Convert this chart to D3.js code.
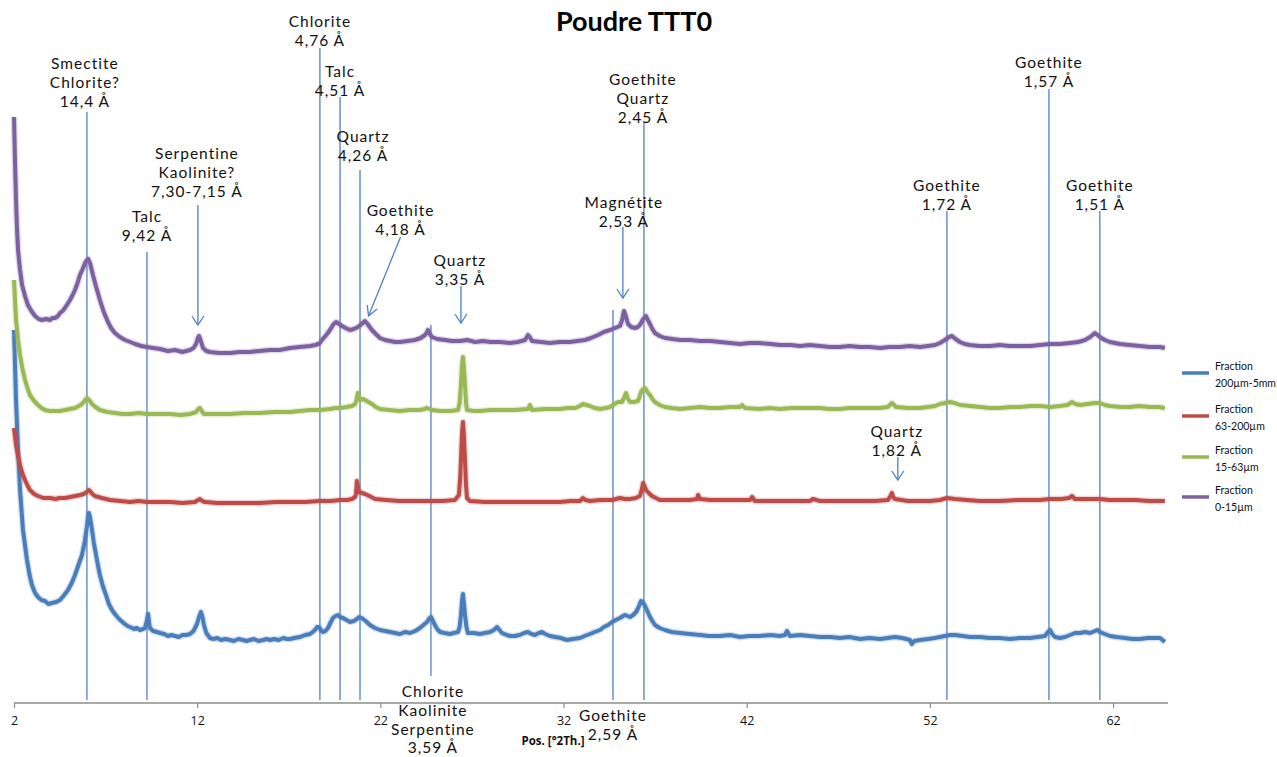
<!DOCTYPE html>
<html><head><meta charset="utf-8">
<script src="https://cdn.jsdelivr.net/npm/d3@7"></script>
<style>
body{margin:0;background:#fff;}
svg{display:block;}
</style></head>
<body><svg id="c" width="1277" height="757"></svg>
<script>
// ---------- DATA ----------
const title = "Poudre TTT0";
const xAxisTitle = "Pos. [°2Th.]";
const xTicks = [2, 12, 22, 32, 42, 52, 62];
const seriesNames = ["Fraction\n200µm-5mm", "Fraction\n63-200µm", "Fraction\n15-63µm", "Fraction\n0-15µm"];

// [2θ, intensity (arbitrary, stacked)]
const blue = [[2.00,373],[2.11,303],[2.22,253],[2.33,213],[2.49,173],[2.71,143],[2.85,128],[2.98,118],[3.15,110],[3.31,106],[3.50,103],[3.69,102],[3.88,99],[4.07,100],[4.30,101],[4.51,103],[4.70,107],[4.95,113],[5.15,120],[5.33,128],[5.50,137],[5.71,148],[5.85,160],[5.98,176],[6.04,186],[6.09,190],[6.15,186],[6.26,173],[6.36,160],[6.48,148],[6.58,138],[6.69,128],[6.85,117],[7.02,108],[7.18,99],[7.35,93],[7.55,88],[7.79,83],[8.05,79],[8.20,77],[8.33,76],[8.55,74],[8.70,75],[8.88,73],[9.05,74],[9.15,75],[9.25,82],[9.32,89],[9.38,80],[9.42,75],[9.60,72],[9.80,71],[9.97,70],[10.20,69],[10.40,67],[10.60,68],[10.79,67],[11.00,66],[11.20,68],[11.40,68],[11.61,69],[11.80,72],[11.99,79],[12.10,86],[12.21,91],[12.30,85],[12.37,78],[12.50,70],[12.70,65],[12.90,64],[13.10,65],[13.30,63],[13.55,64],[13.79,63],[14.00,62],[14.25,64],[14.50,63],[14.70,62],[14.88,63],[15.10,64],[15.35,62],[15.60,63],[15.80,64],[15.98,63],[16.20,64],[16.45,63],[16.70,65],[16.90,64],[17.07,64],[17.30,65],[17.61,66],[17.90,68],[18.16,69],[18.30,71],[18.43,73],[18.55,76],[18.65,76],[18.75,73],[18.87,71],[19.00,72],[19.14,75],[19.30,81],[19.41,85],[19.55,87],[19.69,88],[19.80,86],[19.96,85],[20.15,83],[20.34,81],[20.55,82],[20.72,84],[20.85,86],[20.99,85],[21.20,82],[21.43,78],[21.70,75],[21.98,73],[22.25,72],[22.53,71],[22.80,70],[23.07,69],[23.35,71],[23.62,70],[23.90,72],[24.16,75],[24.35,78],[24.55,81],[24.65,84],[24.76,86],[24.87,82],[24.98,78],[25.10,74],[25.26,71],[25.50,70],[25.80,69],[26.00,70],[26.24,71],[26.33,76],[26.40,88],[26.46,102],[26.51,109],[26.56,100],[26.62,88],[26.70,76],[26.78,70],[27.10,70],[27.44,69],[27.70,70],[27.99,71],[28.20,73],[28.37,76],[28.50,73],[28.64,70],[28.90,68],[29.10,67],[29.35,67],[29.60,68],[29.85,70],[30.06,71],[30.25,69],[30.44,68],[30.65,70],[30.82,71],[31.00,69],[31.26,67],[31.55,66],[31.85,65],[32.19,63],[32.50,64],[32.90,65],[33.15,67],[33.44,69],[33.70,71],[33.99,73],[34.20,76],[34.43,78],[34.65,81],[34.85,83],[35.08,85],[35.25,87],[35.36,88],[35.50,87],[35.63,86],[35.80,88],[35.96,91],[36.10,96],[36.23,102],[36.33,101],[36.45,97],[36.60,91],[36.72,86],[36.85,82],[36.99,78],[37.25,75],[37.54,73],[37.90,71],[38.36,70],[38.90,69],[39.45,68],[39.95,67],[40.54,67],[41.10,68],[41.63,66],[42.15,67],[42.72,67],[43.30,68],[43.80,67],[44.09,68],[44.20,72],[44.36,67],[44.91,68],[45.45,67],[46.00,66],[46.55,66],[47.09,65],[47.60,66],[48.18,64],[48.70,65],[49.28,64],[49.70,65],[50.09,66],[50.50,65],[50.91,63],[51.02,59],[51.15,62],[51.46,63],[51.90,64],[52.28,65],[52.82,67],[53.10,68],[53.37,68],[53.80,67],[54.19,66],[54.70,66],[55.28,65],[55.80,65],[56.37,64],[56.90,65],[57.47,65],[57.90,66],[58.28,67],[58.45,71],[58.56,73],[58.68,69],[58.83,66],[59.10,65],[59.38,66],[59.65,68],[59.92,70],[60.20,70],[60.47,71],[60.75,70],[61.01,72],[61.15,73],[61.28,71],[61.55,69],[61.83,67],[62.20,66],[62.65,65],[63.05,64],[63.47,64],[63.90,65],[64.29,65],[64.56,65],[64.70,63],[64.83,61]];

const red = [[2.00,275],[2.11,258],[2.22,247],[2.33,238],[2.45,230],[2.60,223],[2.75,217],[2.87,213],[3.10,209],[3.31,207],[3.60,205],[3.97,205],[4.25,204],[4.51,205],[4.80,205],[5.06,206],[5.35,207],[5.60,208],[5.80,209],[5.98,211],[6.08,213],[6.15,212],[6.28,209],[6.42,207],[6.80,205],[7.24,203],[7.80,202],[8.33,201],[8.80,202],[9.26,201],[9.90,201],[10.52,201],[11.20,200],[11.88,201],[12.05,203],[12.15,204],[12.28,202],[12.43,201],[13.10,200],[13.79,200],[14.60,200],[15.43,200],[16.30,201],[17.07,201],[17.90,201],[18.70,202],[19.30,202],[19.80,203],[20.20,203],[20.45,204],[20.62,206],[20.67,209],[20.70,216],[20.72,222],[20.76,218],[20.83,211],[21.00,210],[21.16,209],[21.40,207],[21.71,204],[22.30,203],[23.07,202],[23.90,202],[24.71,202],[25.40,202],[26.07,203],[26.29,208],[26.36,225],[26.40,243],[26.46,270],[26.51,281],[26.56,268],[26.62,243],[26.67,220],[26.73,205],[26.89,202],[27.70,201],[28.53,201],[29.30,201],[30.17,201],[31.00,201],[31.81,201],[32.40,202],[32.90,202],[33.06,205],[33.20,203],[33.44,202],[34.00,203],[34.65,203],[35.08,205],[35.35,204],[35.63,204],[35.95,205],[36.17,207],[36.28,214],[36.34,220],[36.42,217],[36.50,213],[36.65,210],[36.83,207],[37.26,203],[38.10,203],[38.90,203],[39.29,204],[39.34,208],[39.45,204],[40.00,203],[40.54,203],[41.40,203],[42.18,203],[42.29,206],[42.45,202],[43.10,202],[43.82,202],[44.60,202],[45.45,202],[45.62,204],[46.00,202],[47.10,202],[48.18,202],[49.00,202],[49.71,203],[49.85,207],[49.93,210],[50.00,206],[50.09,204],[50.80,202],[51.46,202],[52.00,202],[52.55,203],[52.93,205],[53.37,204],[54.00,203],[54.70,202],[55.83,202],[56.90,203],[58.01,203],[58.56,204],[59.20,204],[59.60,205],[59.76,207],[59.92,204],[60.60,204],[61.28,204],[61.80,203],[62.38,203],[63.20,203],[64.00,202],[64.83,202]];

const green = [[2.00,423],[2.11,383],[2.22,363],[2.33,348],[2.45,335],[2.60,323],[2.75,314],[2.87,308],[3.10,302],[3.31,298],[3.50,295],[3.69,293],[3.95,292],[4.24,292],[4.50,292],[4.78,293],[5.05,294],[5.33,295],[5.55,297],[5.71,299],[5.85,302],[5.98,305],[6.10,303],[6.26,299],[6.45,296],[6.69,293],[7.10,291],[7.51,290],[7.90,289],[8.33,289],[8.80,290],[9.26,289],[9.90,289],[10.52,289],[11.10,288],[11.61,289],[11.94,291],[12.07,294],[12.15,295],[12.25,292],[12.37,289],[13.10,289],[13.79,289],[14.60,290],[15.43,290],[16.20,291],[17.07,291],[17.60,292],[18.16,293],[18.70,293],[19.25,294],[19.55,295],[19.80,295],[20.15,296],[20.45,297],[20.62,299],[20.67,301],[20.72,306],[20.78,310],[20.83,306],[20.89,303],[21.05,304],[21.16,303],[21.35,301],[21.54,299],[21.75,296],[21.98,294],[22.50,293],[23.07,292],[23.60,293],[24.16,293],[24.40,294],[24.55,295],[24.68,294],[24.82,293],[25.30,292],[25.80,292],[26.24,293],[26.33,300],[26.40,318],[26.46,338],[26.51,346],[26.56,336],[26.62,318],[26.68,300],[26.73,293],[27.10,292],[27.44,292],[28.00,293],[28.53,293],[29.30,293],[30.06,294],[30.17,298],[30.28,293],[31.00,294],[31.81,294],[32.20,295],[32.63,295],[32.90,297],[33.06,299],[33.25,298],[33.44,297],[33.70,295],[33.99,294],[34.30,295],[34.54,296],[34.78,299],[34.98,301],[35.19,301],[35.30,305],[35.41,310],[35.50,305],[35.63,301],[35.85,301],[36.06,302],[36.15,306],[36.23,311],[36.35,314],[36.45,315],[36.58,311],[36.72,308],[36.85,304],[36.99,301],[37.25,298],[37.54,296],[37.90,295],[38.36,294],[38.90,295],[39.45,296],[40.00,295],[40.54,295],[41.10,296],[41.63,296],[41.75,298],[41.90,295],[42.72,294],[43.30,295],[43.82,294],[44.40,295],[44.91,295],[45.50,295],[46.00,295],[46.50,294],[47.09,294],[47.60,295],[48.18,295],[48.70,295],[49.28,295],[49.70,296],[49.93,300],[50.15,296],[50.80,295],[51.46,295],[51.90,296],[52.28,297],[52.55,299],[52.82,300],[53.10,301],[53.35,300],[53.64,298],[54.20,297],[54.73,296],[55.30,295],[55.83,295],[56.40,296],[56.92,296],[57.50,297],[58.01,297],[58.60,296],[59.10,297],[59.50,298],[59.76,301],[59.95,299],[60.20,298],[60.60,299],[61.01,300],[61.28,300],[61.55,298],[61.83,297],[62.40,296],[62.92,296],[63.40,297],[64.01,296],[64.50,296],[64.83,295]];

const purple = [[2.00,586],[2.05,545],[2.11,503],[2.16,476],[2.22,453],[2.33,433],[2.44,418],[2.60,407],[2.76,398],[2.95,392],[3.15,387],[3.35,384],[3.53,383],[3.75,384],[3.97,383],[4.10,385],[4.24,385],[4.40,387],[4.51,390],[4.65,392],[4.78,395],[4.92,399],[5.06,403],[5.20,408],[5.33,413],[5.47,420],[5.60,428],[5.75,434],[5.88,440],[5.98,443],[6.05,444],[6.15,440],[6.23,434],[6.31,428],[6.50,415],[6.69,403],[6.90,391],[7.13,381],[7.30,375],[7.51,370],[7.78,366],[8.06,363],[8.35,361],[8.61,359],[8.95,357],[9.26,356],[9.60,355],[9.97,354],[10.40,352],[10.79,353],[11.20,351],[11.61,353],[11.80,355],[11.94,359],[12.04,365],[12.10,367],[12.20,362],[12.32,355],[12.50,352],[12.70,351],[13.20,350],[13.79,350],[14.30,351],[14.88,351],[15.40,352],[15.98,353],[16.50,353],[17.07,355],[17.60,356],[18.16,357],[18.45,358],[18.60,359],[18.70,360],[18.81,363],[19.05,368],[19.25,373],[19.45,379],[19.58,381],[19.75,379],[19.91,377],[20.10,375],[20.34,373],[20.55,374],[20.78,376],[20.98,379],[21.16,382],[21.30,379],[21.54,373],[21.75,369],[21.98,365],[22.25,363],[22.53,362],[22.80,361],[23.07,361],[23.50,362],[23.89,363],[24.20,365],[24.44,368],[24.55,371],[24.60,373],[24.70,369],[24.82,366],[25.10,364],[25.53,363],[25.90,362],[26.35,362],[26.75,363],[27.17,361],[27.60,362],[27.99,361],[28.50,361],[29.08,360],[29.50,361],[29.90,363],[30.06,368],[30.16,366],[30.28,362],[30.75,361],[31.26,360],[31.80,361],[32.35,361],[32.75,362],[33.17,363],[33.50,365],[33.88,368],[34.20,371],[34.54,373],[34.81,375],[35.08,377],[35.20,383],[35.30,392],[35.40,387],[35.52,379],[35.70,376],[35.90,375],[36.05,376],[36.17,378],[36.35,384],[36.50,387],[36.60,383],[36.72,379],[36.85,374],[36.99,370],[37.25,367],[37.54,365],[37.95,364],[38.36,363],[38.90,363],[39.45,362],[40.00,362],[40.54,361],[41.10,360],[41.63,359],[42.15,360],[42.72,360],[43.30,359],[43.82,358],[44.40,358],[44.91,357],[45.45,358],[46.00,357],[46.55,356],[47.09,356],[47.60,357],[48.18,356],[48.70,356],[49.28,355],[49.80,356],[50.37,356],[50.90,357],[51.46,356],[51.90,357],[52.28,358],[52.55,360],[52.82,363],[53.05,366],[53.21,367],[53.40,364],[53.64,361],[53.90,359],[54.19,358],[54.70,357],[55.28,357],[55.80,358],[56.37,357],[56.90,357],[57.47,357],[58.01,358],[58.56,359],[59.10,359],[59.65,360],[60.10,361],[60.47,363],[60.75,366],[61.01,370],[61.15,368],[61.28,366],[61.55,363],[61.83,361],[62.10,360],[62.38,359],[62.90,358],[63.47,357],[64.00,356],[64.56,356],[64.83,355]];

// annotations: 2θ position, text lines, kind
const annoPos   = [5.98, 9.26, 12.04, 18.70, 19.80, 20.89, 21.30, 24.76, 26.40, 34.70, 35.24, 36.39, 52.93, 58.50, 61.28, 50.25];
const annoText  = [
  ["Smectite","Chlorite?","14,4 Å"],
  ["Talc","9,42 Å"],
  ["Serpentine","Kaolinite?","7,30-7,15 Å"],
  ["Chlorite","4,76 Å"],
  ["Talc","4,51 Å"],
  ["Quartz","4,26 Å"],
  ["Goethite","4,18 Å"],
  ["Chlorite","Kaolinite","Serpentine","3,59 Å"],
  ["Quartz","3,35 Å"],
  ["Goethite","2,59 Å"],
  ["Magnétite","2,53 Å"],
  ["Goethite","Quartz","2,45 Å"],
  ["Goethite","1,72 Å"],
  ["Goethite","1,57 Å"],
  ["Goethite","1,51 Å"],
  ["Quartz","1,82 Å"]
];
const annoKind = ["line","line","arrow","line","line","line","slant","mid","arrow","mid","arrow","line","line","line","line","arrow"];

// ---------- LAYOUT (pixels) ----------
// [label first-line centre y, line/arrow top y, line/arrow bottom y, label x offset]
const annoLayout = [
  [64,112,700,-2],[217,252,700,0],[154,205,325,-1],[22,48,700,0],[72,97,700,0],[137,170,700,3],
  [211,237,316,0],[692,325,676,2],[261,286,323,-1],[716,310,700,0],[203,227,298,1],[80,122,700,-1],
  [186,211,700,0],[63,89,700,0],[186,211,700,0],[432,457,480,-1]
];

const svg = d3.select("#c");
const x = d3.scaleLinear().domain([2, 65]).range([14, 1168]);
const y = d3.scaleLinear().domain([0, 700]).range([703, 3]);
const axisY = 703;

// title
svg.append("text").attr("x", 634).attr("y", 31).attr("text-anchor","middle")
  .attr("font-family","Lato, 'Open Sans', sans-serif").attr("font-weight","bold")
  .attr("font-size", 27).attr("fill","#000").text(title);

// axis
const axis = d3.axisBottom(x).tickValues(xTicks).tickSize(5).tickFormat(d3.format("d"));
const gA = svg.append("g").attr("transform",`translate(0,${axisY})`).call(axis);
gA.select(".domain").attr("stroke","#8c8c8c").attr("stroke-width",1.3).attr("d",`M14,0H1168`);
gA.selectAll(".tick line").attr("stroke","#8c8c8c").attr("stroke-width",1.2);
gA.selectAll(".tick text").attr("font-family","'Open Sans', sans-serif").attr("font-size",12.5)
  .attr("fill","#111").attr("dy","1.15em");
svg.append("text").attr("x",553).attr("y",745).attr("text-anchor","middle")
  .attr("font-family","'Open Sans', sans-serif").attr("font-weight","bold").attr("font-size",11.5)
  .attr("fill","#111").text(xAxisTitle);

// annotation lines
const refColor = "#4f81bd";
const gR = svg.append("g");
annoPos.forEach((p,i)=>{
  const L = annoLayout[i], k = annoKind[i];
  const px = x(p);
  if (k === "line" || k === "mid") {
    gR.append("line").attr("x1",px).attr("x2",px).attr("y1",L[1]).attr("y2",L[2])
      .attr("stroke",refColor).attr("stroke-width",1.3);
  } else if (k === "arrow") {
    gR.append("line").attr("x1",px).attr("x2",px).attr("y1",L[1]).attr("y2",L[2])
      .attr("stroke",refColor).attr("stroke-width",1.3);
    gR.append("path").attr("d",`M${px-6},${L[2]-9}L${px},${L[2]}L${px+6},${L[2]-9}`)
      .attr("fill","none").attr("stroke",refColor).attr("stroke-width",1.3);
  } else if (k === "slant") {
    const x0 = px + 33, x1 = px + 1;
    gR.append("line").attr("x1",x0).attr("x2",x1).attr("y1",L[1]).attr("y2",L[2])
      .attr("stroke",refColor).attr("stroke-width",1.3);
    const ang = Math.atan2(L[2]-L[1], x1-x0);
    const h = 11, s = 0.5;
    const a1 = ang + Math.PI - s, a2 = ang + Math.PI + s;
    gR.append("path").attr("d",`M${x1+h*Math.cos(a1)},${L[2]+h*Math.sin(a1)}L${x1},${L[2]}L${x1+h*Math.cos(a2)},${L[2]+h*Math.sin(a2)}`)
      .attr("fill","none").attr("stroke",refColor).attr("stroke-width",1.3);
  }
});

// series
const series = [blue, red, green, purple];
const colors = ["#4a7ebb","#be4b48","#98b954","#7d60a0"];
const line = d3.line().x(d=>x(d[0])).y(d=>y(d[1])).curve(d3.curveLinear);
const gS = svg.append("g");
series.forEach((s,i)=>{
  gS.append("path").attr("d",line(s)).attr("fill","none").attr("stroke",colors[i])
    .attr("stroke-width",6.5).attr("stroke-opacity",0.25).attr("stroke-linejoin","round");
  gS.append("path").attr("d",line(s)).attr("fill","none").attr("stroke",colors[i])
    .attr("stroke-width",4).attr("stroke-linejoin","round");
});

// annotation labels (on top)
const gT = svg.append("g").attr("font-family","Lato, 'Open Sans', sans-serif").attr("font-size",15.5)
  .attr("letter-spacing","1px").attr("fill","#111");
annoPos.forEach((p,i)=>{
  const L = annoLayout[i];
  let cx = x(p) + L[3];
  if (annoKind[i] === "slant") cx = x(p) + 33;
  annoText[i].forEach((t,j)=>{
    gT.append("text").attr("x",cx).attr("y",L[0] + j*18.6).attr("dy","0.35em")
      .attr("text-anchor","middle").text(t);
  });
});

// legend
const legY = [373, 416, 457, 497];
const gL = svg.append("g").attr("font-family","Lato, 'Open Sans', sans-serif").attr("font-size",10.5).attr("fill","#111");
seriesNames.forEach((n,i)=>{
  gL.append("line").attr("x1",1182).attr("x2",1209).attr("y1",legY[i]).attr("y2",legY[i])
    .attr("stroke",colors[i]).attr("stroke-width",3.5);
  n.split("\n").forEach((t,j)=>{
    gL.append("text").attr("x",1215).attr("y",legY[i]-7 + j*17).attr("dy","0.35em").text(t);
  });
});
</script></body></html>
